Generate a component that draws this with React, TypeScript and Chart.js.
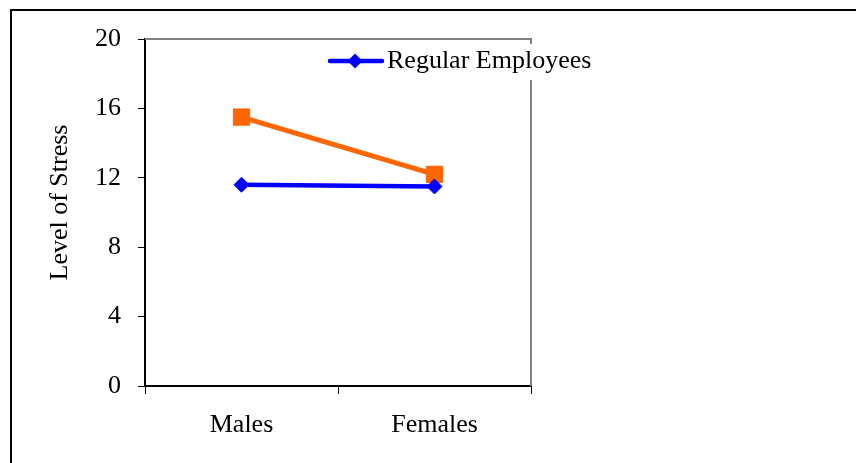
import React, { useEffect, useRef } from "react";
import { Chart, registerables } from "chart.js";

Chart.register(...registerables);

const categories = ["Males", "Females"];
const regularEmployees = [11.6, 11.5];
const secondSeries = [15.5, 12.2];
const yMin = 0;
const yMax = 20;
const yStep = 4;
const legendLabel = "Regular Employees";
const yAxisTitle = "Level of Stress";

const FONT = "'Liberation Serif', 'Times New Roman', serif";
const BLUE = "#0000FF";
const ORANGE = "#FF6600";

const decorPlugin = {
  id: "decor",
  beforeDatasetsDraw(chart: any) {
    const { ctx, chartArea: a } = chart;
    ctx.save();
    ctx.strokeStyle = "#808080";
    ctx.lineWidth = 2;
    ctx.beginPath();
    ctx.moveTo(a.left, a.top);
    ctx.lineTo(a.right, a.top);
    ctx.lineTo(a.right, a.bottom);
    ctx.stroke();
    ctx.restore();
  },
  afterDraw(chart: any) {
    const { ctx, chartArea: a } = chart;
    ctx.save();
    // legend box
    const lx = a.left + 183;
    const ly = a.top + 22;
    ctx.fillStyle = "#ffffff";
    ctx.fillRect(lx - 4, a.top + 5, 280, 36);
    const ds = chart.data.datasets[0];
    ctx.strokeStyle = ds.borderColor;
    ctx.lineWidth = 4.5;
    ctx.lineCap = "round";
    ctx.beginPath();
    ctx.moveTo(lx + 2, ly);
    ctx.lineTo(lx + 54, ly);
    ctx.stroke();
    ctx.fillStyle = ds.backgroundColor;
    const cx = lx + 27;
    const r = 7.5;
    ctx.beginPath();
    ctx.moveTo(cx, ly - r);
    ctx.lineTo(cx + r, ly);
    ctx.lineTo(cx, ly + r);
    ctx.lineTo(cx - r, ly);
    ctx.closePath();
    ctx.fill();
    ctx.fillStyle = "#000";
    ctx.font = `26px ${FONT}`;
    ctx.textAlign = "left";
    ctx.textBaseline = "middle";
    ctx.fillText(legendLabel, lx + 59, ly);
    // y axis title
    ctx.translate(60, (a.top + a.bottom) / 2 - 10);
    ctx.rotate(-Math.PI / 2);
    ctx.textAlign = "center";
    ctx.fillText(yAxisTitle, 0, 0);
    ctx.restore();
  },
};

export default function App() {
  const ref = useRef<HTMLCanvasElement | null>(null);

  useEffect(() => {
    if (!ref.current) return;
    const chart = new Chart(ref.current, {
      type: "line",
      data: {
        labels: categories,
        datasets: [
          {
            label: legendLabel,
            data: regularEmployees,
            borderColor: BLUE,
            backgroundColor: BLUE,
            borderWidth: 4.5,
            pointStyle: "rectRot",
            pointRadius: 7.5,
            pointBorderWidth: 1,
            tension: 0,
          },
          {
            label: "",
            data: secondSeries,
            borderColor: ORANGE,
            backgroundColor: ORANGE,
            borderWidth: 5,
            pointStyle: "rect",
            pointRadius: 11.5,
            pointBorderWidth: 1,
            tension: 0,
          },
        ],
      },
      options: {
        animation: false,
        responsive: false,
        maintainAspectRatio: false,
        layout: { padding: { left: 0, top: 39, right: 325, bottom: 0 } },
        plugins: {
          legend: { display: false },
          tooltip: { enabled: false },
          title: { display: false },
        },
        scales: {
          x: {
            type: "category",
            offset: true,
            grid: {
              display: true,
              offset: true,
              drawOnChartArea: false,
              drawTicks: true,
              tickLength: 8,
              color: "#000",
              lineWidth: 1,
            },
            border: { color: "#000", width: 2 },
            ticks: {
              color: "#000",
              font: { family: FONT, size: 26 },
              padding: 16,
              maxRotation: 0,
            },
            afterFit(scale: any) {
              scale.height = 77;
            },
          },
          y: {
            min: yMin,
            max: yMax,
            grid: {
              display: true,
              drawOnChartArea: false,
              drawTicks: true,
              tickLength: 7,
              color: "#000",
              lineWidth: 1,
            },
            border: { color: "#000", width: 2 },
            ticks: {
              stepSize: yStep,
              color: "#000",
              font: { family: FONT, size: 26 },
              padding: 17,
            },
            afterFit(scale: any) {
              scale.width = 145;
            },
          },
        },
      },
      plugins: [decorPlugin],
    });
    return () => chart.destroy();
  }, []);

  return (
    <div
      style={{
        position: "fixed",
        left: 0,
        top: 0,
        width: 856,
        height: 463,
        overflow: "hidden",
        background: "#fff",
      }}
    >
      <div
        style={{
          position: "absolute",
          left: 10,
          top: 9,
          width: 1000,
          height: 1000,
          borderLeft: "2.5px solid #000",
          borderTop: "2.5px solid #000",
          boxShadow: "0 1px 0 #999",
        }}
      />
      <canvas
        ref={ref}
        width={856}
        height={463}
        style={{ position: "absolute", left: 0, top: 0, width: 856, height: 463 }}
      />
    </div>
  );
}
